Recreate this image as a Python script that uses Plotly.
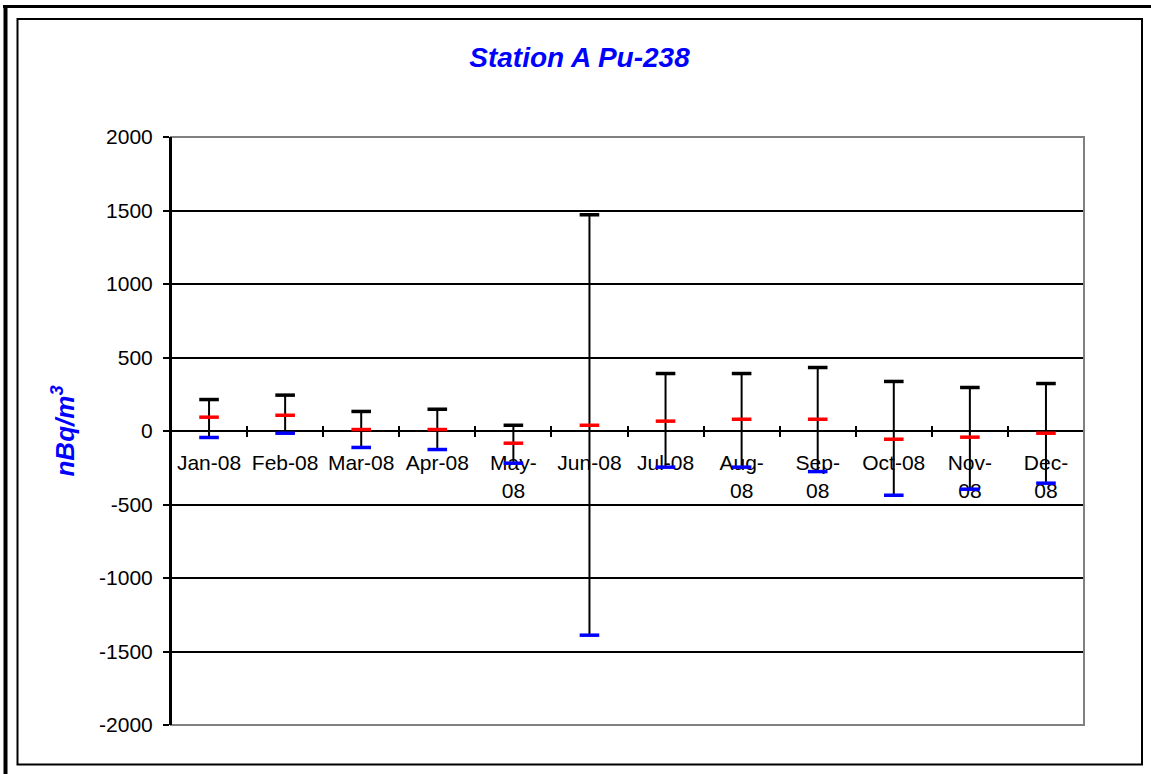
import plotly.graph_objects as go

months = ["Jan-08", "Feb-08", "Mar-08", "Apr-08", "May-08", "Jun-08",
          "Jul-08", "Aug-08", "Sep-08", "Oct-08", "Nov-08", "Dec-08"]
tick_text = ["Jan-08", "Feb-08", "Mar-08", "Apr-08", "May-<br>08", "Jun-08",
             "Jul-08", "Aug-<br>08", "Sep-<br>08", "Oct-08", "Nov-<br>08", "Dec-<br>08"]
high = [214, 244, 133, 148, 39, 1471, 391, 391, 432, 337, 296, 323]
value = [94, 107, 10, 10, -83, 39, 67, 80, 80, -56, -42, -15]
low = [-44, -15, -112, -126, -219, -1389, -246, -246, -276, -437, -396, -355]
y_ticks = [-2000, -1500, -1000, -500, 0, 500, 1000, 1500, 2000]
y_tick_text = ["-2000", "-1500", "-1000", "-500", "0", "500", "1000", "1500", "2000"]

W, H = 1151, 774
L, R, T, B = 171, 67, 137, 49
PW, PH = W - L - R, H - T - B
FONT = "Liberation Sans, Arial, sans-serif"


def px_x(p):
    return (p - L) / PW


def px_y(p):
    return 1 - (p - T) / PH


fig = go.Figure()

# high-low vertical lines
fig.add_trace(go.Scatter(
    x=months, y=low, mode="markers", marker=dict(size=1, opacity=0),
    error_y=dict(type="data", symmetric=False,
                 array=[h - l for h, l in zip(high, low)],
                 arrayminus=[0] * len(low), width=0, thickness=2, color="black"),
    showlegend=False, hoverinfo="skip"))
# high markers
fig.add_trace(go.Scatter(
    x=months, y=high, mode="markers", name="High",
    marker=dict(symbol="line-ew", size=14, line=dict(color="black", width=3.5)),
    showlegend=False))
# value markers
fig.add_trace(go.Scatter(
    x=months, y=value, mode="markers", name="Value",
    marker=dict(symbol="line-ew", size=14, line=dict(color="#FF0000", width=3.5)),
    showlegend=False))
# low markers
fig.add_trace(go.Scatter(
    x=months, y=low, mode="markers", name="Low",
    marker=dict(symbol="line-ew", size=14, line=dict(color="#0000FF", width=3.5)),
    showlegend=False))
# dummy trace for the overlaying axis (upward tick marks)
fig.add_trace(go.Scatter(
    x=months, y=value, xaxis="x2", mode="markers",
    marker=dict(size=1, opacity=0), showlegend=False, hoverinfo="skip"))

shapes = [
    # plot area border
    dict(type="rect", xref="paper", yref="paper", x0=0, x1=1, y0=0, y1=1,
         line=dict(color="#808080", width=2), layer="above"),
    # left axis line over border
    dict(type="line", xref="paper", yref="paper", x0=0, x1=0, y0=0, y1=1,
         line=dict(color="black", width=2), layer="above"),
    # chart frame
    dict(type="rect", xref="paper", yref="paper",
         x0=px_x(17.5), x1=px_x(1142), y0=px_y(19), y1=px_y(764.5),
         line=dict(color="black", width=2), layer="above"),
    dict(type="line", xref="paper", yref="paper",
         x0=px_x(3), x1=px_x(1151), y0=px_y(6.5), y1=px_y(6.5),
         line=dict(color="black", width=3), layer="above"),
    dict(type="line", xref="paper", yref="paper",
         x0=px_x(5.5), x1=px_x(5.5), y0=px_y(5), y1=px_y(774),
         line=dict(color="black", width=4), layer="above"),
]

fig.update_layout(
    width=W, height=H,
    margin=dict(l=L, r=R, t=T, b=B, autoexpand=False),
    paper_bgcolor="white", plot_bgcolor="white",
    font=dict(family=FONT, size=21, color="black"),
    title=dict(text="<b><i>Station A Pu-238</i></b>", xref="container", yref="container",
               x=579.5 / W, y=1 - 57 / H, xanchor="center", yanchor="middle",
               font=dict(family=FONT, size=28, color="#0000FF")),
    xaxis=dict(type="category", categoryorder="array", categoryarray=months,
               tickvals=months, ticktext=tick_text, range=[-0.5, 11.5],
               anchor="free", position=0.5, tickson="boundaries", tickangle=0,
               ticks="outside", ticklen=5, tickwidth=2, tickcolor="black",
               showline=True, linecolor="black", linewidth=2,
               showgrid=False, zeroline=False, layer="below traces",
               ticklabelstandoff=13,
               tickfont=dict(family=FONT, size=21, color="black")),
    xaxis2=dict(type="category", categoryorder="array", categoryarray=months,
                range=[-0.5, 11.5], overlaying="x", anchor="free", position=0.5,
                tickson="boundaries", ticks="inside", ticklen=5, tickwidth=2,
                tickcolor="black", showticklabels=False, showline=False,
                showgrid=False, zeroline=False),
    yaxis=dict(range=[-2000, 2000], tickvals=y_ticks, ticktext=y_tick_text,
               ticks="outside", ticklen=6,
               tickwidth=2, tickcolor="black", showline=True, linecolor="black",
               linewidth=2, showgrid=True, gridcolor="black", gridwidth=2,
               zeroline=False, ticklabelstandoff=6,
               tickfont=dict(family=FONT, size=21, color="black"),
               title=dict(text="<b><i>nBq/m<sup>3</sup></i></b>", standoff=17,
                          font=dict(family=FONT, size=26, color="#0000FF"))),
    shapes=shapes,
)

fig.write_html("out.html", config={"displayModeBar": False},
               post_script="document.body.style.margin='0';")
